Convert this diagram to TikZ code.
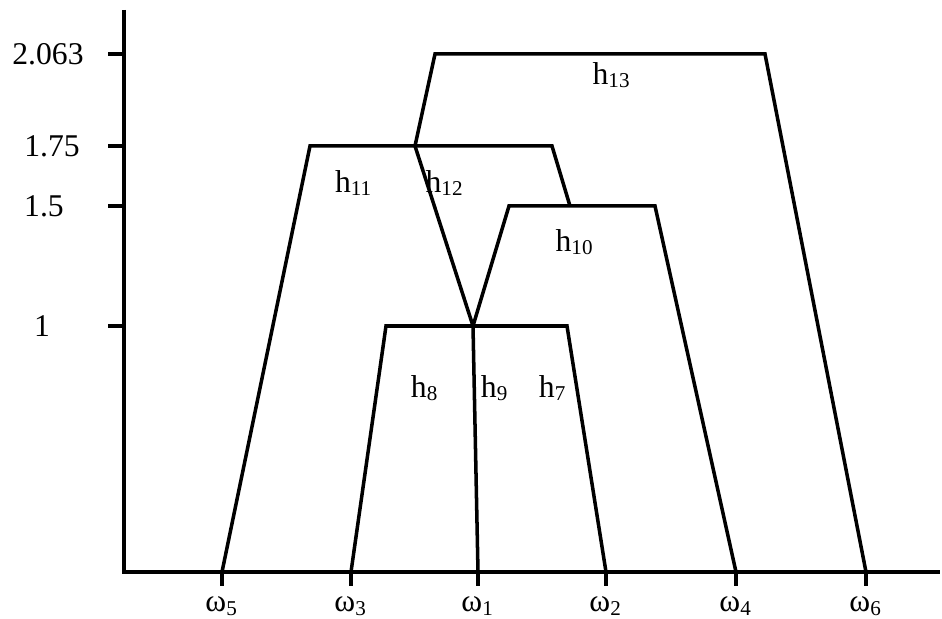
\documentclass[tikz,border=0pt]{standalone}
\usepackage{fontspec}
\setmainfont{Liberation Serif}
\usetikzlibrary{positioning}
\tikzset{every node/.append style={align=center}}
\tikzset{
  axisline/.style={line width=0.9pt},
  branch/.style={line width=1pt, line join=miter},
  numlbl/.style={font=\fontsize{9}{10}\selectfont, inner sep=0pt},
  hlbl/.style={font=\fontsize{9}{10}\selectfont, inner sep=0pt}
}

\begin{document}
\begin{tikzpicture}[x=0.01cm,y=-0.01cm]
\useasboundingbox (0,0) rectangle (942,619);

% ── Axes ──────────────────────────────────────────────────────────────────────
\coordinate (ytop) at (124,10);
\coordinate (orig) at (124,572);
\coordinate (xend) at (940,572);
\draw[axisline] (ytop) -- (orig) -- (xend);

% ── Level ticks on the vertical axis ─────────────────────────────────────────
\foreach \y/\lx/\lbl/\nm in {54/48/2.063/a, 146/52/1.75/b, 206/44/1.5/c, 326/42/1/d} {
  \coordinate (yt\nm) at (108,\y);
  \draw[axisline] (yt\nm) -- (124,\y);
  \node[numlbl] (yl\nm) at (\lx,\y) {\lbl};
}

% ── Leaves on the horizontal axis ────────────────────────────────────────────
\foreach \x/\i in {222/5, 351/3, 478/1, 606/2, 736/4, 866/6} {
  \coordinate (w\i) at (\x,572);
  \draw[axisline] (w\i) -- (\x,586);
  \node[numlbl] (wl\i) at (\x,606) {ω\textsubscript{\i}};
}

% ── Merge points ─────────────────────────────────────────────────────────────
\coordinate (p8) at (386,326);
\coordinate (p9) at (473,326);
\coordinate (p7) at (567,326);
\coordinate (p10l) at (509,206);
\coordinate (p10r) at (655,206);
\coordinate (p11l) at (310,146);
\coordinate (p12) at (415,146);
\coordinate (p11r) at (552,146);
\coordinate (p11e) at (570,206);
\coordinate (p13l) at (435,54);
\coordinate (p13r) at (765,54);

% ── Branches ─────────────────────────────────────────────────────────────────
\draw[branch] (w3) -- (p8) -- (p7) -- (w2);
\draw[branch] (p9) -- (w1);
\draw[branch] (p9) -- (p10l) -- (p10r) -- (w4);
\draw[branch] (w5) -- (p11l) -- (p11r) -- (p11e);
\draw[branch] (p12) -- (p9);
\draw[branch] (p12) -- (p13l) -- (p13r) -- (w6);

% ── Labels ───────────────────────────────────────────────────────────────────
\node[hlbl] (h13) at (612,75) {h\textsubscript{13}};
\node[hlbl] (h11) at (354,183) {h\textsubscript{11}};
\node[hlbl] (h12) at (445,183) {h\textsubscript{12}};
\node[hlbl] (h10) at (575,242) {h\textsubscript{10}};
\node[hlbl] (h8) at (425,388) {h\textsubscript{8}};
\node[hlbl] (h9) at (495,388) {h\textsubscript{9}};
\node[hlbl] (h7) at (553,388) {h\textsubscript{7}};

\end{tikzpicture}
\end{document}
